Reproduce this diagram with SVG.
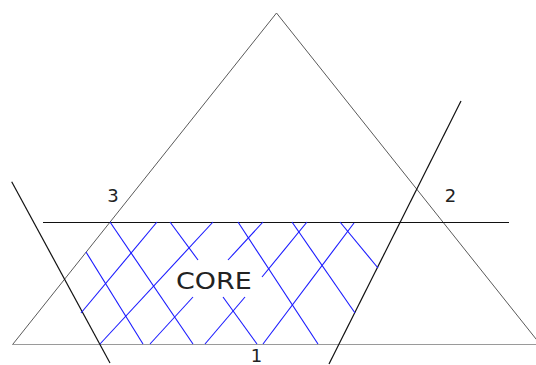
<svg xmlns="http://www.w3.org/2000/svg" width="536" height="365" viewBox="0 0 536 365">
<style>
.tri{fill:none;stroke:#5a5a5a;stroke-width:1}
.base{stroke:#9a9a9a;stroke-width:1}
.blk{stroke:#111;stroke-width:1.2;fill:none}
.hatch{stroke:#1a1aff;stroke-width:1.1;fill:none}
.lbl{font-family:"DejaVu Sans",sans-serif;font-size:18px;fill:#222}
.core{font-family:"DejaVu Sans",sans-serif;font-size:23px;fill:#222}
</style>
<rect width="536" height="365" fill="#fff"/>
<g id="triangle">
<polyline class="tri" points="13,344 276.5,13 540,344"/>
<line class="base" x1="12" y1="344.5" x2="536" y2="344.5"/>
</g>
<g id="lines">
<line class="blk" x1="43" y1="222.5" x2="509" y2="222.5"/>
<line class="blk" x1="11.7" y1="181.7" x2="110" y2="363"/>
<line class="blk" x1="461" y1="101" x2="329" y2="364"/>
</g>
<g id="hatching" class="hatch">
<line x1="110" y1="222" x2="193" y2="344"/>
<line x1="86" y1="252" x2="143" y2="344"/>
<line x1="170" y1="222" x2="198" y2="260"/>
<line x1="223" y1="297" x2="257" y2="344"/>
<line x1="238" y1="222" x2="318" y2="344"/>
<line x1="292" y1="222" x2="355" y2="313"/>
<line x1="340" y1="222" x2="378" y2="268"/>
<line x1="157" y1="222" x2="81" y2="313"/>
<line x1="213" y1="222" x2="100" y2="344"/>
<line x1="263" y1="222" x2="228" y2="260"/>
<line x1="193" y1="297" x2="150" y2="344"/>
<line x1="307" y1="222" x2="262" y2="277"/>
<line x1="245" y1="297" x2="205" y2="344"/>
<line x1="354" y1="223" x2="263" y2="344"/>
</g>
<g id="label-3"><text class="lbl" x="113" y="201.5" text-anchor="middle">3</text></g>
<g id="label-2"><text class="lbl" x="450.5" y="202" text-anchor="middle">2</text></g>
<g id="label-1"><text class="lbl" x="256.5" y="361.5" text-anchor="middle">1</text></g>
<g id="core"><text class="core" transform="translate(176,288.5) scale(1.17,1)" x="0" y="0">CORE</text></g>
</svg>
